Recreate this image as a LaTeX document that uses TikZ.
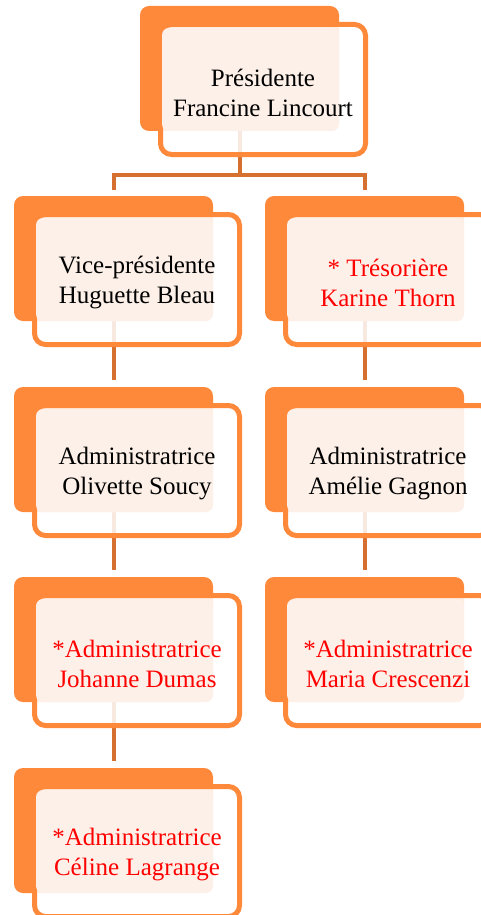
\documentclass[tikz,border=0pt]{standalone}
\usepackage{fontspec}
\setmainfont{Liberation Serif}
\usetikzlibrary{positioning,backgrounds}
\definecolor{orangefond}{RGB}{255,137,59}
\definecolor{orangelien}{RGB}{214,112,48}
\definecolor{pale}{RGB}{253,240,232}

\begin{document}
\begin{tikzpicture}[x=1pt,y=-1pt]
	\tikzset{fond/.style={fill=orangefond,rounded corners=9pt,minimum width=199pt,minimum height=125pt,inner sep=0pt},
		cadre/.style={draw=orangefond,line width=5pt,fill=white,fill opacity=0.85,rounded corners=11pt,minimum width=205pt,minimum height=130pt,inner sep=0pt},
		voile/.style={fill=pale,rounded corners=7pt,minimum width=177pt,minimum height=103pt,inner sep=0pt},
		poste/.style={align=center,font=\fontsize{25}{30}\selectfont},
		lien/.style={draw=orangelien,line width=4pt}}
	\useasboundingbox (0,0) rectangle (481,915);

	%% Draw the boxes
	\foreach \nom/\x/\y/\teinte/\texte in {
		pres/140/6/black/{Présidente\\Francine Lincourt},
		vp/14/196/black/{Vice-présidente\\Huguette Bleau},
		treso/265/196/red/{* Trésorière\\Karine Thorn},
		soucy/14/387/black/{Administratrice\\Olivette Soucy},
		gagnon/265/387/black/{Administratrice\\Amélie Gagnon},
		dumas/14/577/red/{*Administratrice\\Johanne Dumas},
		crescenzi/265/577/red/{*Administratrice\\Maria Crescenzi},
		lagrange/14/768/red/{*Administratrice\\Céline Lagrange}}{
		\node[fond] (\nom-fond) at (\x+99.5,\y+62.5) {};
		\node[cadre] (\nom-cadre) at (\x+123,\y+83.5) {};
		\node[voile] (\nom-voile) at (\x+110.5,\y+73.5) {};
		\node[poste,text=\teinte] (\nom) at (\x+123,\y+87) {\texte};
	}

	%% Draw the links
	\begin{pgfonlayer}{background}
		\draw[lien] (pres-fond.south) -- ([yshift=-44pt]pres-fond.south);
		\draw[lien] ([yshift=6pt]vp-fond.north) |- ([yshift=-44pt]pres-fond.south) -| ([yshift=6pt]treso-fond.north);
		\path[lien]
			(vp-fond.south) edge ([yshift=7pt]soucy-fond.north)
			(soucy-fond.south) edge ([yshift=7pt]dumas-fond.north)
			(dumas-fond.south) edge ([yshift=7pt]lagrange-fond.north)
			(treso-fond.south) edge ([yshift=7pt]gagnon-fond.north)
			(gagnon-fond.south) edge ([yshift=7pt]crescenzi-fond.north);
	\end{pgfonlayer}
\end{tikzpicture}
\end{document}
